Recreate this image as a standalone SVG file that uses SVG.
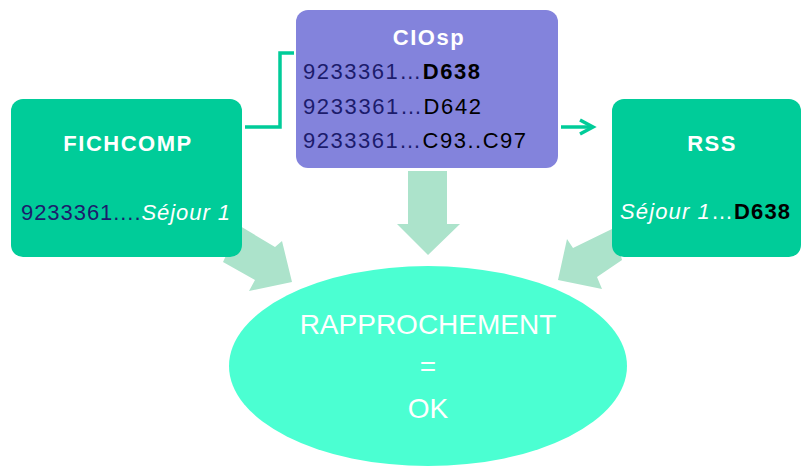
<svg xmlns="http://www.w3.org/2000/svg" width="803" height="466" viewBox="0 0 803 466">
  <style>
    .box { fill: #00CC99; }
    .pbox { fill: #8383DC; }
    .fat { fill: #ACE3CB; }
    .title { font-family: "Liberation Sans", Arial, sans-serif; font-size: 22px; font-weight: bold; fill: #FFFFFF; letter-spacing: 1.5px; text-anchor: middle; }
    .body { font-family: "Liberation Sans", Arial, sans-serif; font-size: 22px; fill: #1C1C6C; }
    .it { font-style: italic; fill: #FFFFFF; }
    .wh { fill: #FFFFFF; }
    .bk { fill: #000000; }
    .b { font-weight: bold; }
    .big { font-family: "Liberation Sans", Arial, sans-serif; font-size: 28px; fill: #FFFFFF; text-anchor: middle; }
    .link { fill: none; stroke: #00CC99; stroke-width: 3.5; }
  </style>

  <!-- broad pale arrows feeding the result -->
  <g id="flows">
    <polygon class="fat" points="408,171 447,171 447,224 460,224 428,255 397,224 408,224"/>
    <polygon class="fat" points="240,226 275,247 282,241 292,282 249,291 255,280 223,262"/>
    <polygon class="fat" points="614,228 573,248 567,239 558,280 602,289 597,277 622,260"/>
  </g>

  <!-- thin connectors -->
  <g id="connectors">
    <path class="link" d="M245,127 H280 V53 H294"/>
    <path class="link" d="M561,127 H592"/>
    <path class="link" d="M580,120 L593,127 L580,134" stroke-linejoin="miter"/>
  </g>

  <g id="fichcomp">
    <rect class="box" x="11" y="99" width="231" height="158" rx="12"/>
    <text class="title" x="128" y="151">FICHCOMP</text>
    <text class="body" x="21" y="220" textLength="209" lengthAdjust="spacing">9233361....<tspan class="it">Séjour 1</tspan></text>
  </g>

  <g id="ciosp">
    <rect class="pbox" x="296" y="10" width="262" height="158" rx="12"/>
    <text class="title" x="429" y="45">CIOsp</text>
    <text class="body" x="303" y="79" textLength="177" lengthAdjust="spacing">9233361…<tspan class="bk b">D638</tspan></text>
    <text class="body" x="303" y="114" textLength="178" lengthAdjust="spacing">9233361…<tspan class="bk">D642</tspan></text>
    <text class="body" x="303" y="148" textLength="223" lengthAdjust="spacing">9233361…<tspan class="bk">C93..C97</tspan></text>
  </g>

  <g id="rss">
    <rect class="box" x="612" y="99" width="189" height="158" rx="12"/>
    <text class="title" x="712" y="151">RSS</text>
    <text class="body" x="620" y="219" textLength="170" lengthAdjust="spacing"><tspan class="it">Séjour 1</tspan><tspan class="wh">…</tspan><tspan class="bk b">D638</tspan></text>
  </g>

  <g id="rapprochement">
    <ellipse cx="428" cy="366" rx="199" ry="100" fill="#4BFFD2"/>
    <text class="big" x="428" y="334">RAPPROCHEMENT</text>
    <text class="big" x="428" y="376">=</text>
    <text class="big" x="428" y="418">OK</text>
  </g>
</svg>
